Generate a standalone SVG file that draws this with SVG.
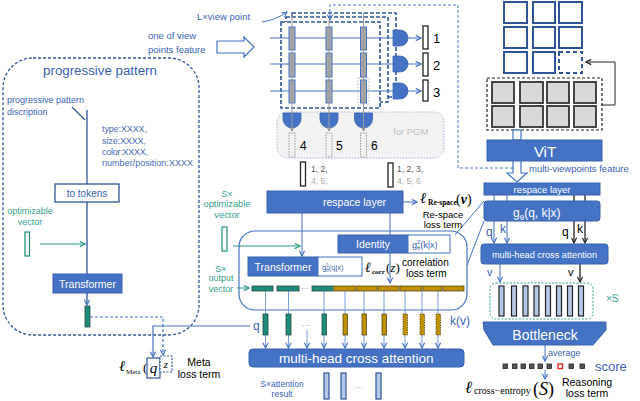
<svg xmlns="http://www.w3.org/2000/svg" width="640" height="401" viewBox="0 0 640 401">
<style>
text{font-family:"Liberation Sans",Arial,sans-serif}
.bf{fill:#4472c4;stroke:#3a62ad;stroke-width:1}
.wt{fill:#fff}
.bt{fill:#3b62b3}
.tt{fill:#35a08e}
.ln{stroke:#4472c4;stroke-width:1;fill:none}
.lnl{stroke:#7b9ee0;stroke-width:1;fill:none}
.dk{stroke:#2f5597;stroke-width:1.3;fill:none}
.gl{stroke:#9a9a9a;stroke-width:1;fill:none}
.kd{stroke:#2f5597;stroke-width:1.6;stroke-dasharray:4 2;fill:#fff}
.td{fill:#1e8c7a;stroke:#24493f;stroke-width:.8}
.gd{fill:#bf9000;stroke:#5a4a1a;stroke-width:.8}
.sv{font-family:"Liberation Serif","Times New Roman",serif}
.bar{fill:#a6a6a6;stroke:#4472c4;stroke-width:1}
.kb{fill:#fff;stroke:#222;stroke-width:1.3}
.gb{fill:#d9d9d9;stroke:#333;stroke-width:1.8}
.sq{fill:#fff;stroke:#2f5597;stroke-width:2}
.vb{fill:#b4c7e7;stroke:#222;stroke-width:1.2}
.sc{fill:#555;stroke:#222;stroke-width:.8}
</style>
<defs>
<marker id="ab" viewBox="0 0 8 8" refX="7" refY="4" markerWidth="7" markerHeight="7" markerUnits="userSpaceOnUse" orient="auto"><path d="M1,1 L7,4 L1,7" fill="none" stroke="#4472c4" stroke-width="1.3"/></marker>
<marker id="ak" viewBox="0 0 8 8" refX="7" refY="4" markerWidth="7" markerHeight="7" markerUnits="userSpaceOnUse" orient="auto"><path d="M1,1 L7,4 L1,7" fill="none" stroke="#222" stroke-width="1.3"/></marker>
<marker id="at" viewBox="0 0 8 8" refX="7" refY="4" markerWidth="7" markerHeight="7" markerUnits="userSpaceOnUse" orient="auto"><path d="M1,1 L7,4 L1,7" fill="none" stroke="#2e9b8a" stroke-width="1.3"/></marker>
<marker id="ag" viewBox="0 0 8 8" refX="7" refY="4" markerWidth="6" markerHeight="6" markerUnits="userSpaceOnUse" orient="auto"><path d="M1,1 L7,4 L1,7" fill="none" stroke="#888" stroke-width="1.2"/></marker>
</defs>
<rect width="640" height="401" fill="#fff"/>

<!-- frames -->
<g id="frames">
<rect x="3" y="58" width="196" height="277" rx="30" fill="none" stroke="#2f5597" stroke-width="1.3" stroke-dasharray="3 2"/>
<rect x="292" y="13" width="104" height="84" class="kd"/>
<rect x="286" y="17" width="102" height="85" class="kd"/>
<rect x="281" y="22" width="99" height="86" class="kd"/>
<rect x="277" y="112" width="167" height="46" rx="10" fill="#f2f2f2" stroke="#9fb4d8" stroke-width="1" stroke-dasharray="1.5 1.5"/>
<rect x="239" y="231" width="228" height="79" rx="16" fill="none" stroke="#4472c4" stroke-width="1.2"/>
<rect x="490" y="283" width="103" height="36" rx="6" fill="none" stroke="#35a08e" stroke-width="1" stroke-dasharray="2 1.5"/>
<rect x="487" y="78" width="115" height="52" fill="none" stroke="#222" stroke-width="1.2" stroke-dasharray="3 2"/>
</g>

<g id="connectors">
<!-- left -->
<path d="M72,107 L85,120" class="dk"/>
<path d="M87,110 V184" class="dk"/>
<path d="M87,202 V274" class="dk"/>
<path d="M40,244 H85" stroke="#2e9b8a" stroke-width="1" marker-end="url(#at)"/>
<path d="M87,293 V305" class="dk" marker-end="url(#ab)"/>
<path d="M90,317 H163 V355" stroke="#4472c4" stroke-width="1.2" stroke-dasharray="3 2" fill="none" marker-end="url(#ab)"/>
<path d="M250,326 H153 V357" stroke="#4472c4" stroke-width="1.2" fill="none" marker-end="url(#ab)"/>
<!-- top middle -->
<path d="M262,22 Q276,20 287,12" class="ln" marker-end="url(#ab)"/>
<path d="M217,41 H244 V37 L254,47 L244,57 V53 H217 Z" fill="#fff" stroke="#4472c4" stroke-width="1.2"/>
<path d="M270,38 H421" class="ln" marker-end="url(#ab)"/>
<path d="M270,64 H421" class="ln" marker-end="url(#ab)"/>
<path d="M270,91 H421" class="ln" marker-end="url(#ab)"/>
<path d="M513,168 H458 V5 H330 V20" stroke="#4472c4" stroke-width="1" stroke-dasharray="3 2" fill="none" marker-end="url(#ab)"/>
<!-- middle -->
<path d="M403,202 H417" class="ln" marker-end="url(#ab)"/>
<path d="M302,213 V256" class="ln" marker-end="url(#ab)"/>
<path d="M390,213 V283" class="ln" marker-end="url(#ab)"/>
<path d="M233,246 H300" stroke="#2e9b8a" stroke-width="1" marker-end="url(#at)"/>
<path d="M237,288 H249" stroke="#2e9b8a" stroke-width="1" marker-end="url(#at)"/>
<g class="lnl" marker-end="url(#ab)">
<path d="M265.5,291 V348"/><path d="M288.5,291 V348"/><path d="M307,330 V348"/><path d="M324,291 V348"/><path d="M345,291 V348"/><path d="M364,291 V348"/><path d="M384,291 V348"/><path d="M405,291 V348"/><path d="M422,291 V348"/><path d="M438,291 V348"/>
</g>
<!-- right -->
<path d="M602,105 H615 V62 H586" stroke="#222" stroke-width="1" fill="none" marker-end="url(#ak)"/>
<rect x="513" y="130" width="8" height="10" fill="#fff" stroke="#4472c4" stroke-width="1.2"/>
<path d="M513,161 V173 H507 L517,182 L527,173 H521 V161" fill="#fff" stroke="#4472c4" stroke-width="1.2"/>
<path d="M494,195 V243" class="ln" stroke-width="1.3" marker-end="url(#ab)"/>
<path d="M507,195 V243" class="ln" stroke-width="1.3" marker-end="url(#ab)"/>
<path d="M574,195 V243" stroke="#222" stroke-width="1.3" marker-end="url(#ak)"/>
<path d="M585,195 V243" stroke="#222" stroke-width="1.3" marker-end="url(#ak)"/>
<path d="M455,235 L484,201" class="ln" stroke-width=".8"/>
<path d="M467,265 L484,221" class="ln" stroke-width=".8"/>
<path d="M500,264 V282" class="ln" stroke-width="1.3" marker-end="url(#ab)"/>
<path d="M580,264 V282" stroke="#222" stroke-width="1.3" marker-end="url(#ak)"/>
<path d="M545,345 V361" class="ln" stroke-width="1.3" marker-end="url(#ab)"/>
<path d="M545,370 V379" class="ln" stroke-width="1.3" marker-end="url(#ab)"/>
</g>

<!-- left node texts -->
<g id="progressive-pattern">
<text x="100" y="75" font-size="13.3" text-anchor="middle" class="bt">progressive pattern</text>
<text x="7" y="103" font-size="9" class="bt">progressive pattern</text>
<text x="7" y="115" font-size="9" class="bt">discription</text>
<g font-size="9" fill="#4a6bb5">
<text x="102" y="132" textLength="45">type:XXXX,</text>
<text x="102" y="143.5" textLength="44">size:XXXX,</text>
<text x="102" y="155" textLength="46">color:XXXX,</text>
<text x="102" y="166" textLength="91">number/position:XXXX</text>
</g>
</g>
<g id="to-tokens">
<rect x="55" y="184" width="64" height="18" fill="#fff" stroke="#2f5597" stroke-width="1.3"/>
<text x="87" y="197" font-size="10" text-anchor="middle" class="bt">to tokens</text>
</g>
<g id="optimizable-vector">
<text x="30" y="214" font-size="9" text-anchor="middle" class="tt">optimizable</text>
<text x="30" y="225" font-size="9" text-anchor="middle" class="tt">vector</text>
<rect x="25" y="232" width="4.5" height="24" fill="#fff" stroke="#1e8c7a" stroke-width="1.2"/>
</g>
<g id="transformer-left">
<rect x="53" y="274" width="69" height="19" class="bf"/>
<text x="87.5" y="288" font-size="10.5" text-anchor="middle" class="wt">Transformer</text>
</g>
<rect id="pattern-token" x="85" y="306" width="5" height="21" class="td"/>
<g id="meta-loss">
<text class="sv" x="119" y="371" font-size="15" font-style="italic">ℓ</text>
<text class="sv" x="126" y="374" font-size="7">Meta</text>
<text class="sv" x="143" y="372" font-size="13">(</text>
<rect x="147" y="358" width="13" height="20" fill="#fff" stroke="#2f5597" stroke-width="1.2"/>
<text class="sv" x="153.5" y="373" font-size="15" font-style="italic" text-anchor="middle">q</text>
<rect x="160" y="356" width="12" height="16" fill="#fff" stroke="#2f5597" stroke-width="1.2" stroke-dasharray="2 1.5"/>
<text class="sv" x="166" y="368" font-size="11" font-style="italic" text-anchor="middle">z</text>
<text x="199" y="366" font-size="10.5" text-anchor="middle">Meta</text>
<text x="199" y="378" font-size="10.5" text-anchor="middle">loss term</text>
</g>

<!-- top middle -->
<g id="view-labels">
<text x="197" y="20" font-size="9.5" class="bt">L×view point</text>
<text x="148" y="39" font-size="9.5" class="bt">one of view</text>
<text x="148" y="53" font-size="9.5" class="bt">points feature</text>
</g>
<g id="view-stack">
<g class="bar">
<rect x="289" y="27" width="6" height="23"/><rect x="289" y="53" width="6" height="24"/><rect x="289" y="80" width="6" height="23"/>
<rect x="326" y="27" width="6" height="23"/><rect x="326" y="53" width="6" height="24"/><rect x="326" y="80" width="6" height="23"/>
<rect x="360.5" y="27" width="6" height="23"/><rect x="360.5" y="53" width="6" height="24"/><rect x="360.5" y="80" width="6" height="23"/>
</g>
<rect x="358" y="78" width="11" height="27" fill="none" stroke="#aaa" stroke-width=".8" stroke-dasharray="1.5 1.5"/>
</g>
<g id="gates-right" fill="#4472c4" stroke="#3a62ad" stroke-width=".8">
<path d="M393,30 H400 A8,8 0 0 1 400,46 H393 Z"/>
<path d="M393,56 H400 A8,8 0 0 1 400,72 H393 Z"/>
<path d="M393,83 H400 A8,8 0 0 1 400,99 H393 Z"/>
</g>
<g id="view-outputs">
<rect x="423" y="26" width="5" height="23" class="kb"/>
<rect x="423" y="53" width="5" height="23" class="kb"/>
<rect x="423" y="80" width="5" height="21" class="kb"/>
<text x="433" y="43" font-size="13">1</text>
<text x="433" y="70" font-size="13">2</text>
<text x="433" y="97" font-size="13">3</text>
</g>
<g id="pgm">
<text x="393" y="135" font-size="9.5" fill="#bfbfbf">for PGM</text>
<g fill="#4472c4" stroke="#3a62ad" stroke-width=".8">
<path d="M283,113 H301 V119 A9,9 0 0 1 283,119 Z"/>
<path d="M320,113 H338 V119 A9,9 0 0 1 320,119 Z"/>
<path d="M354.5,113 H372.5 V119 A9,9 0 0 1 354.5,119 Z"/>
</g>
<g fill="none" stroke="#999" stroke-width="1" stroke-dasharray="1.5 1.2">
<rect x="289" y="133" width="6" height="24"/><rect x="326" y="133" width="6" height="24"/><rect x="360.5" y="133" width="6" height="24"/>
</g>
<text x="300" y="150" font-size="12">4</text>
<text x="336" y="150" font-size="12">5</text>
<text x="371" y="150" font-size="12">6</text>
</g>
<g id="connectors-columns" class="gl">
<path d="M292,13 V131" marker-end="url(#ag)"/>
<path d="M329,20 V131" marker-end="url(#ag)"/>
<path d="M363.5,13 V131" marker-end="url(#ag)"/>
</g>
<g id="pgm-outputs">
<rect x="300.5" y="162" width="5" height="24" class="kb"/>
<rect x="388" y="163" width="5" height="24" class="kb"/>
<text x="311" y="172" font-size="8.5" fill="#555">1,  2,</text>
<text x="311" y="184" font-size="8.5" fill="#aaa">4,  5,</text>
<text x="397" y="172" font-size="8.5" fill="#555">1,  2,  3,</text>
<text x="397" y="184" font-size="8.5" fill="#aaa">4,  5,  6</text>
</g>

<!-- middle -->
<g id="respace-mid">
<rect x="267" y="191" width="136" height="22" class="bf"/>
<text x="323" y="206" font-size="10.5" class="wt">respace layer</text>
</g>
<g id="respace-loss">
<text class="sv" x="420" y="203" font-size="15" font-style="italic">ℓ</text>
<text class="sv" x="428" y="205" font-size="7.5" font-weight="bold">Re-space</text>
<text class="sv" x="456" y="203.5" font-size="14">(<tspan font-style="italic" font-weight="bold">v</tspan>)</text>
<text x="443" y="218" font-size="9.5" text-anchor="middle">Re-space</text>
<text x="443" y="228" font-size="9.5" text-anchor="middle">loss term</text>
</g>
<g id="s-opt-vector">
<text x="227" y="197" font-size="9.3" text-anchor="middle" class="tt">S×</text>
<text x="227" y="207" font-size="9.3" text-anchor="middle" class="tt">optimizable</text>
<text x="227" y="218" font-size="9.3" text-anchor="middle" class="tt">vector</text>
<rect x="222" y="227" width="5" height="24" fill="#fff" stroke="#1e8c7a" stroke-width="1.2"/>
</g>
<g id="identity">
<rect x="338" y="235" width="70" height="18" class="bf"/>
<text x="373" y="248" font-size="10.5" text-anchor="middle" class="wt">Identity</text>
<rect x="408" y="235" width="42" height="18" fill="#fff" stroke="#4472c4" stroke-width="1"/>
<text x="412" y="248" font-size="9" class="bt">g<tspan font-size="6" dy="-4">2</tspan><tspan font-size="6" dx="-3.5" dy="6">θ</tspan><tspan dy="-2">(k|x)</tspan></text>
</g>
<g id="transformer-mid">
<rect x="248" y="257" width="70" height="19" class="bf"/>
<text x="283" y="271" font-size="10.5" text-anchor="middle" class="wt">Transformer</text>
<rect x="318" y="257" width="44" height="19" fill="#fff" stroke="#4472c4" stroke-width="1"/>
<text x="322" y="270" font-size="7.5" class="bt">g<tspan font-size="5" dy="-3">1</tspan><tspan font-size="5" dx="-3" dy="5">θ</tspan><tspan dy="-2">(q|x)</tspan></text>
</g>
<g id="corr-loss">
<text class="sv" x="365" y="272" font-size="14" font-style="italic">ℓ</text>
<text class="sv" x="372" y="274" font-size="7" font-weight="bold">corr</text>
<text class="sv" x="386" y="272" font-size="13">(<tspan font-style="italic">z</tspan>)</text>
<text x="402" y="266" font-size="10">correlation</text>
<text x="406" y="277" font-size="10">loss term</text>
</g>
<g id="s-output-vector">
<text x="221" y="272" font-size="9" text-anchor="middle" class="tt">S×</text>
<text x="221" y="281" font-size="9" text-anchor="middle" class="tt">output</text>
<text x="221" y="292" font-size="9" text-anchor="middle" class="tt">vector</text>
</g>
<g id="token-row">
<rect x="252" y="286" width="21" height="5" class="td"/>
<rect x="277" y="286" width="22" height="5" class="td"/>
<text x="301" y="291" font-size="8" fill="#888">···</text>
<rect x="312" y="286" width="21" height="5" class="td"/>
<rect x="334" y="286" width="21" height="5" class="gd"/>
<rect x="356" y="286" width="21" height="5" class="gd"/>
<rect x="378" y="286" width="21" height="5" class="gd"/>
<rect x="400" y="286" width="22" height="5" class="gd"/>
<rect x="423" y="286" width="19" height="5" class="gd"/>
<rect x="443" y="286" width="21" height="5" class="gd"/>
</g>
<g id="query-bars">
<rect x="263" y="314" width="5" height="21" class="td"/>
<rect x="286" y="314" width="5" height="21" class="td"/>
<text x="302" y="328" font-size="8" fill="#888">···</text>
<rect x="322" y="314" width="4.5" height="21" class="td"/>
<rect x="343" y="314" width="4.5" height="21" class="gd"/>
<rect x="362" y="314" width="4.5" height="21" class="gd"/>
<rect x="382" y="314" width="4.5" height="21" class="gd"/>
<rect x="403" y="314" width="4.5" height="21" class="gd" stroke-dasharray="1.5 1"/>
<rect x="420" y="314" width="4.5" height="21" class="gd" stroke-dasharray="1.5 1"/>
<rect x="436" y="314" width="4.5" height="21" class="gd" stroke-dasharray="1.5 1"/>
<text x="253" y="330" font-size="12" class="bt">q</text>
<text x="450" y="325" font-size="12" class="bt">k(v)</text>
</g>
<g id="mhca-mid">
<rect x="249" y="349" width="215" height="18" rx="4" class="bf"/>
<text x="279" y="363" font-size="13.5" class="wt">multi-head cross attention</text>
</g>
<g id="attention-result">
<text x="282" y="387" font-size="8.5" text-anchor="middle" class="bt">S×attention</text>
<text x="282" y="397" font-size="8.5" text-anchor="middle" class="bt">result</text>
<rect x="324" y="373" width="5" height="26" fill="#b4c7e7" stroke="#2f5597" stroke-width="1.2"/>
<rect x="341" y="373" width="5" height="26" fill="#b4c7e7" stroke="#2f5597" stroke-width="1.2"/>
<text x="355" y="390" font-size="8" fill="#888">···</text>
<rect x="376" y="373" width="5" height="26" fill="#b4c7e7" stroke="#2f5597" stroke-width="1.2"/>
</g>

<!-- right -->
<g id="view-grid">
<rect x="504" y="2" width="23" height="21" class="sq"/><rect x="533" y="2" width="22" height="21" class="sq"/><rect x="559" y="2" width="23" height="21" class="sq"/>
<rect x="504" y="27" width="23" height="21" class="sq"/><rect x="533" y="27" width="22" height="21" class="sq"/><rect x="559" y="27" width="23" height="21" class="sq"/>
<rect x="504" y="52" width="23" height="21" class="sq"/><rect x="533" y="52" width="22" height="21" class="sq"/><rect x="559" y="52" width="23" height="21" class="sq" stroke-dasharray="4 3"/>
</g>
<g id="choice-grid">
<rect x="492" y="82" width="22" height="21" class="gb"/><rect x="520" y="82" width="23" height="21" class="gb"/><rect x="547" y="82" width="22" height="21" class="gb"/><rect x="574" y="82" width="22" height="21" class="gb"/>
<rect x="492" y="106" width="22" height="21" class="gb"/><rect x="520" y="106" width="23" height="21" class="gb" stroke="#e02020"/><rect x="547" y="106" width="22" height="21" class="gb"/><rect x="574" y="106" width="22" height="21" class="gb"/>
</g>
<g id="vit">
<rect x="487" y="140" width="115" height="21" class="bf"/>
<text x="545" y="157" font-size="15" text-anchor="middle" class="wt">ViT</text>
</g>
<text id="mv-feature" x="529" y="172" font-size="9.5" class="bt">multi-viewpoints feature</text>
<g id="respace-right">
<rect x="484" y="183" width="116" height="12" class="bf"/>
<text x="542" y="193" font-size="9.5" text-anchor="middle" class="wt">respace layer</text>
</g>
<g id="g-theta">
<rect x="484" y="201" width="116" height="20" rx="3" class="bf"/>
<text x="513" y="217" font-size="12" class="wt">g<tspan font-size="8" dy="3">θ</tspan><tspan dy="-3">(q,  k|x)</tspan></text>
</g>
<g id="qk-labels" font-size="12">
<text x="486" y="236" class="bt">q</text>
<text x="500" y="233" class="bt">k</text>
<text x="562" y="236">q</text>
<text x="577" y="233">k</text>
</g>
<g id="mhca-right">
<rect x="481" y="244" width="127" height="20" rx="3" class="bf"/>
<text x="544.5" y="257.5" font-size="9.2" text-anchor="middle" class="wt">multi-head cross attention</text>
</g>
<text x="487" y="276" font-size="11" class="bt">v</text>
<text x="568" y="276" font-size="11">v</text>
<g id="answer-bars">
<rect x="499" y="286" width="5" height="30" class="vb"/><rect x="511.5" y="286" width="5" height="30" class="vb"/><rect x="523" y="286" width="5" height="30" class="vb"/><rect x="534" y="286" width="5" height="30" class="vb"/>
<rect x="545.5" y="286" width="5" height="30" class="vb"/><rect x="556.5" y="286" width="5" height="30" class="vb" stroke="#e02020"/><rect x="567.5" y="286" width="5" height="30" class="vb"/><rect x="578.5" y="286" width="5" height="30" class="vb"/>
</g>
<text x="606" y="302" font-size="10" class="tt">×S</text>
<g id="bottleneck">
<path d="M483,322 H606 V330 L593,345 H493 L484,330 Z" class="bf"/>
<text x="545" y="340" font-size="14" text-anchor="middle" class="wt">Bottleneck</text>
</g>
<text x="548" y="356" font-size="9" class="bt">average</text>
<g id="scores">
<rect x="503" y="364" width="4.5" height="4.5" class="sc"/><rect x="512.5" y="364" width="4.5" height="4.5" class="sc"/><rect x="521" y="364" width="4.5" height="4.5" class="sc"/><rect x="529.5" y="364" width="4.5" height="4.5" class="sc"/><rect x="538" y="364" width="4.5" height="4.5" class="sc"/><rect x="547" y="364" width="4.5" height="4.5" class="sc"/>
<rect x="558" y="364" width="4.5" height="4.5" fill="#fff" stroke="#e02020" stroke-width="1.3"/>
<rect x="569" y="364" width="4.5" height="4.5" class="sc"/><rect x="580" y="364" width="4.5" height="4.5" class="sc"/>
<text x="595" y="371" font-size="13" class="bt">score</text>
</g>
<g id="ce-loss">
<text class="sv" x="465" y="393" font-size="17" font-style="italic">ℓ</text>
<text class="sv" x="474" y="394" font-size="10">cross−entropy</text>
<text class="sv" x="533" y="395" font-size="18">(<tspan font-style="italic">S</tspan>)</text>
<text x="587" y="386" font-size="10.5" text-anchor="middle">Reasoning</text>
<text x="587" y="397" font-size="10.5" text-anchor="middle">loss term</text>
</g>
</svg>
